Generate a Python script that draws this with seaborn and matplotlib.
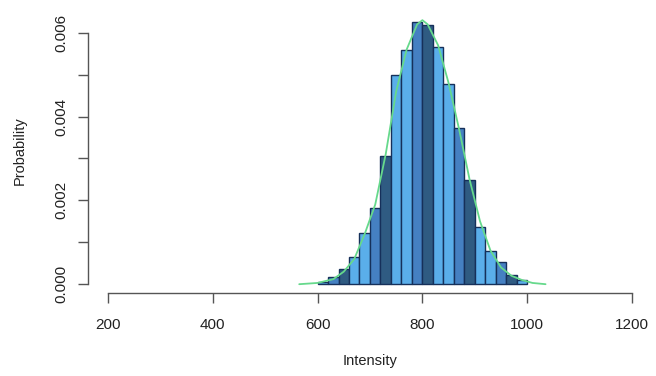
import matplotlib
matplotlib.use('Agg')
import matplotlib.pyplot as plt
import seaborn as sns
import numpy as np

# histogram bins (Intensity) and bar heights (probability density)
bin_edges = [600, 620, 640, 660, 680, 700, 720, 740, 760, 780, 800,
             820, 840, 860, 880, 900, 920, 940, 960, 980, 1000]
bar_heights = [0.00005, 0.00016, 0.00036, 0.00064, 0.00122, 0.00182, 0.00306,
               0.00500, 0.00558, 0.00626, 0.00618, 0.00566, 0.00478, 0.00372,
               0.00248, 0.00136, 0.00080, 0.00052, 0.00022, 0.00010]

# density curve
curve_x = [565, 600, 630, 650, 670, 690, 710, 730, 750, 770, 790, 800,
           810, 830, 850, 870, 890, 910, 930, 950, 970, 990, 1010, 1035]
curve_y = [0.0, 0.00003, 0.00012, 0.0003, 0.0006, 0.0012, 0.0019, 0.0031,
           0.0046, 0.0056, 0.0062, 0.0063, 0.0062, 0.0057, 0.0048, 0.0037,
           0.0025, 0.0015, 0.0008, 0.0004, 0.0002, 0.0001, 0.00003, 0.0]

bar_cycle = ['#2f5b82', '#5aaeea', '#5aaeea', '#4580c2']

sns.set_style('ticks')
plt.rcParams['font.family'] = ['Liberation Sans', 'DejaVu Sans']

fig = plt.figure(figsize=(6.56, 3.76), dpi=100)
ax = fig.add_axes([88 / 656, 83 / 376, 565 / 656, 285 / 376])

centers = [(a + b) / 2 for a, b in zip(bin_edges[:-1], bin_edges[1:])]
sns.histplot(x=centers, weights=bar_heights, bins=bin_edges, stat='count',
             ax=ax, edgecolor='#16305a', linewidth=1.0, alpha=1)
for i, p in enumerate(ax.patches):
    # same 4-colour rotation as the reference, starting at 720
    p.set_facecolor(bar_cycle[(i - 6) % 4])

sns.lineplot(x=curve_x, y=curve_y, ax=ax, color='#66d98c', linewidth=1.3)

ax.set_xlim(162, 1240)
ax.set_ylim(-0.00021, 0.00659)
ax.set_xticks(np.arange(200, 1201, 200))
ax.set_yticks(np.arange(0, 0.0061, 0.001))
ax.set_yticklabels(['0.000', '', '0.002', '', '0.004', '', '0.006'],
                   rotation=90, va='center')
ax.spines['left'].set_bounds(0, 0.006)
ax.spines['bottom'].set_bounds(200, 1200)
sns.despine(ax=ax)
for s in ['left', 'bottom']:
    ax.spines[s].set_color('#555555')
    ax.spines[s].set_linewidth(1.0)
ax.tick_params(axis='both', length=7, width=1.0, color='#555555',
               labelsize=11, labelcolor='#222222')
ax.tick_params(axis='x', pad=11)
ax.tick_params(axis='y', pad=7)

ax.set_xlabel('Intensity', fontsize=10.5, color='#222222', labelpad=16)
ax.set_ylabel('Probability', fontsize=10.5, color='#222222', labelpad=20)

fig.savefig('out.png', dpi=100)
